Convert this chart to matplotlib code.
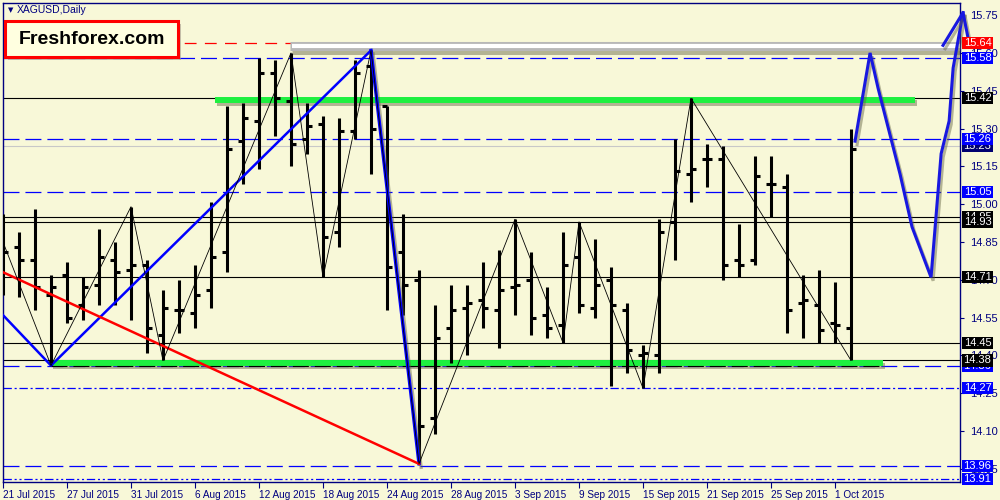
import numpy as np
import matplotlib.pyplot as plt
import matplotlib.patheffects as pe
from matplotlib.patches import Rectangle
from matplotlib.transforms import blended_transform_factory

plt.rcParams['lines.scale_dashes'] = False

# daily bars (index 0 = 21 Jul 2015)
opens = [14.80, 14.83, 14.78, 14.64, 14.72, 14.60, 14.68, 14.78, 14.74, 14.76,
         14.48, 14.58, 14.57, 14.66, 14.81, 15.25, 15.33, 15.52, 15.41, 15.26,
         15.32, 14.89, 15.29, 15.55, 15.39, 14.81, 14.70, 14.15, 14.51, 14.59,
         14.62, 14.58, 14.67, 14.70, 14.56, 14.52, 14.79, 14.59, 14.70, 14.58,
         14.40, 14.40, 14.93, 15.12, 15.18, 15.18, 14.78, 14.78, 15.08, 15.07,
         14.61, 14.60, 14.53, 14.51]
highs = [14.96, 14.89, 14.98, 14.72, 14.77, 14.71, 14.90, 14.85, 14.99, 14.78,
         14.66, 14.70, 14.76, 15.01, 15.39, 15.40, 15.58, 15.57, 15.60, 15.40,
         15.35, 15.34, 15.57, 15.61, 15.39, 14.96, 14.74, 14.60, 14.68, 14.68,
         14.77, 14.82, 14.94, 14.81, 14.67, 14.89, 14.93, 14.86, 14.75, 14.61,
         14.44, 14.94, 15.26, 15.42, 15.24, 15.23, 14.92, 15.19, 15.19, 15.12,
         14.72, 14.74, 14.69, 15.30]
lows = [14.64, 14.63, 14.58, 14.36, 14.53, 14.54, 14.60, 14.60, 14.54, 14.41,
        14.38, 14.49, 14.51, 14.59, 14.73, 15.08, 15.14, 15.27, 15.15, 15.20,
        14.71, 14.83, 15.26, 15.12, 14.58, 14.56, 13.97, 14.09, 14.37, 14.40,
        14.51, 14.43, 14.56, 14.48, 14.47, 14.45, 14.57, 14.55, 14.28, 14.33,
        14.27, 14.33, 14.78, 15.01, 15.07, 14.70, 14.71, 14.76, 14.95, 14.49,
        14.47, 14.45, 14.45, 14.38]
closes = [14.81, 14.78, 14.67, 14.67, 14.55, 14.67, 14.79, 14.73, 14.76, 14.51,
          14.59, 14.58, 14.64, 14.79, 15.22, 15.34, 15.52, 15.42, 15.24, 15.31,
          14.87, 15.29, 15.52, 15.30, 14.75, 14.68, 14.12, 14.47, 14.58, 14.61,
          14.59, 14.66, 14.68, 14.55, 14.51, 14.76, 14.60, 14.68, 14.60, 14.42,
          14.41, 14.89, 15.13, 15.14, 15.18, 14.76, 14.76, 15.11, 15.08, 14.58,
          14.62, 14.50, 14.52, 15.22]

date_labels = ['21 Jul 2015', '27 Jul 2015', '31 Jul 2015', '6 Aug 2015',
               '12 Aug 2015', '18 Aug 2015', '24 Aug 2015', '28 Aug 2015',
               '3 Sep 2015', '9 Sep 2015', '15 Sep 2015', '21 Sep 2015',
               '25 Sep 2015', '1 Oct 2015']
price_ticks = [13.95, 14.10, 14.25, 14.40, 14.55, 14.70, 14.85, 15.00,
               15.15, 15.30, 15.45, 15.60, 15.75]

# zigzag pivots
zz_idx = [0, 3, 8, 10, 18, 20, 23, 26, 32, 35, 36, 40, 43, 53]
zz_val = [14.85, 14.36, 14.99, 14.38, 15.60, 14.71, 15.61, 13.97, 14.94,
          14.45, 14.93, 14.27, 15.42, 14.38]

# levels
black_levels = [15.42, 14.95, 14.93, 14.71, 14.45, 14.38]
blue_dash_levels = [15.58, 15.26, 15.05, 14.36, 13.96]
dashdot_level = 14.27
dashdotdot_level = 13.91
red_level = 15.64
bid_level = 15.23

# trend lines
blue_tl_idx = [0, 3, 23]
blue_tl_val = [14.56, 14.36, 15.61]
blue_drop_idx = [23, 26]
blue_drop_val = [15.61, 13.97]
red_tl_idx = [0, 26]
red_tl_val = [14.73, 13.97]

# forecast path drawn by hand
fc_idx = [53.25, 54.19, 54.69, 56.06, 56.81, 58.0, 58.63, 59.13, 59.38, 60.0]
fc_val = [15.25, 15.60, 15.46, 15.12, 14.91, 14.71, 15.20, 15.33, 15.54, 15.76]
arrow_idx = [58.75, 60.0, 60.31]
arrow_val = [15.63, 15.76, 15.66]

bg = '#F8F8D8'
navy = '#000080'
lab_font = 'Liberation Sans'

fig = plt.figure(figsize=(10, 5), dpi=100, facecolor=bg)
ax = fig.add_axes([0.003, 0.036, 0.957, 0.958], facecolor=bg)
ax.set_xlim(0, 59.81)
ax.set_ylim(13.898, 15.798)

for v in black_levels:
    ax.axhline(v, color='black', lw=0.8, zorder=2)
for v in blue_dash_levels:
    ax.axhline(v, color='#0000FF', lw=0.9, dashes=(11.5, 4.3), zorder=2)
ax.axhline(dashdot_level, color='#0000FF', lw=0.9, dashes=(6, 2, 1.5, 2), zorder=2)
ax.axhline(dashdotdot_level, color='#0000FF', lw=0.9, dashes=(6, 2, 1.5, 2, 1.5, 2), zorder=2)
ax.axhline(red_level, color='#FF0000', lw=0.9, dashes=(8.5, 6), zorder=2)
ax.axhline(bid_level, color='#C8C8C8', lw=0.8, zorder=2)

shadow = [pe.SimpleLineShadow(offset=(1.5, -2.5), shadow_color='#606040', alpha=0.45),
          pe.Normal()]

# green support / resistance bands
ax.plot([13.25, 57.0], [15.415, 15.415], color='#1EF040', lw=4.3,
        solid_capstyle='butt', path_effects=shadow, zorder=3)
ax.plot([3.0, 55.0], [14.372, 14.372], color='#1EF040', lw=4.3,
        solid_capstyle='butt', path_effects=shadow, zorder=3)
ax.plot([3.0, 55.0], [14.36, 14.36], color='#000000', lw=0.8,
        dashes=(11.5, 4.3), zorder=3.1)
# gray band at top
ax.plot([17.94, 59.81], [15.626, 15.626], color='#B8B8B8', lw=6.5,
        solid_capstyle='butt', path_effects=shadow, zorder=3)
ax.plot([18.05, 59.81], [15.626, 15.626], color='#FFFFFF', lw=3.0,
        solid_capstyle='butt', zorder=3.2)

# bars
idx = np.arange(len(opens))
ax.vlines(idx, lows, highs, color='black', lw=2.2, zorder=4)
ax.hlines(opens, idx - 0.3, idx, color='black', lw=2.2, zorder=4)
ax.hlines(closes, idx, idx + 0.3, color='black', lw=2.2, zorder=4)

# trend lines
ax.plot(blue_tl_idx, blue_tl_val, color='#0000FF', lw=1.8, zorder=5)
ax.plot(blue_drop_idx, blue_drop_val, color='#0000FF', lw=2.4,
        path_effects=shadow, zorder=5)
ax.plot(red_tl_idx, red_tl_val, color='#FF0000', lw=1.8, zorder=5)
ax.plot(zz_idx, zz_val, color='black', lw=0.6, zorder=6)

# forecast
ax.plot(fc_idx, fc_val, color='#1818E0', lw=2.2, path_effects=shadow,
        solid_joinstyle='miter', zorder=7, clip_on=False)
ax.plot(arrow_idx, arrow_val, color='#1818E0', lw=2.2, path_effects=shadow,
        zorder=7, clip_on=False)

# axes styling
for s in ax.spines.values():
    s.set_color(navy)
    s.set_linewidth(1.0)
ax.yaxis.tick_right()
ax.set_yticks(price_ticks)
ax.set_yticklabels([f'{v:.2f}' for v in price_ticks])
ax.tick_params(axis='y', colors=navy, length=3, width=0.8, pad=4, labelsize=8)
ax.set_xticks(range(0, 4 * len(date_labels), 4))
ax.set_xticklabels(date_labels, ha='left')
ax.tick_params(axis='x', colors=navy, length=4, width=0.8, pad=2, labelsize=7.2)
for lab in ax.get_xticklabels() + ax.get_yticklabels():
    lab.set_color(navy)
    lab.set_fontfamily(lab_font)

# price labels on the right
tr = blended_transform_factory(fig.transFigure, ax.transData)
box_h = 0.048
labels = [
    (red_level, '#FF0000', 'white'),
    (15.58, '#0000FF', 'white'),
    (15.42, 'black', 'white'),
    (bid_level, '#000070', 'white'),
    (15.26, '#0000FF', 'white'),
    (15.05, '#0000FF', 'white'),
    (14.95, 'black', 'white'),
    (14.93, 'black', 'white'),
    (14.71, 'black', 'white'),
    (14.45, 'black', 'white'),
    (14.36, '#0000FF', 'white'),
    (14.38, 'black', 'white'),
    (dashdot_level, '#0000FF', 'white'),
    (13.96, '#0000FF', 'white'),
    (dashdotdot_level, '#0000FF', 'white'),
]
for z, (v, bcol, tcol) in enumerate(labels):
    ax.add_patch(Rectangle((0.962, v - box_h / 2), 0.031, box_h, transform=tr,
                           facecolor=bcol, edgecolor='none', clip_on=False,
                           zorder=20 + 2 * z))
    ax.text(0.9775, v, f'{v:.2f}', transform=tr, ha='center', va='center',
            color=tcol, fontsize=8, family=lab_font, zorder=21 + 2 * z,
            clip_on=False)

# header and logo
fig.text(0.008, 0.980, '\u25BC', color=navy, fontsize=5, va='center')
fig.text(0.017, 0.980, 'XAGUSD,Daily', color=navy, fontsize=7.5,
         family=lab_font, va='center')
fig.patches.append(Rectangle((0.008, 0.880), 0.173, 0.072, transform=fig.transFigure,
                             facecolor='#A0A090', edgecolor='none', alpha=0.6, zorder=30))
fig.patches.append(Rectangle((0.005, 0.886), 0.173, 0.072, transform=fig.transFigure,
                             facecolor='#FFFFE0', edgecolor='#FF0000', lw=2.2, zorder=31))
fig.text(0.0915, 0.922, 'Freshforex.com', fontsize=14, fontweight='bold',
         family='Liberation Sans', ha='center', va='center', color='black', zorder=32)

fig.savefig('out.png', dpi=100, facecolor=bg)
